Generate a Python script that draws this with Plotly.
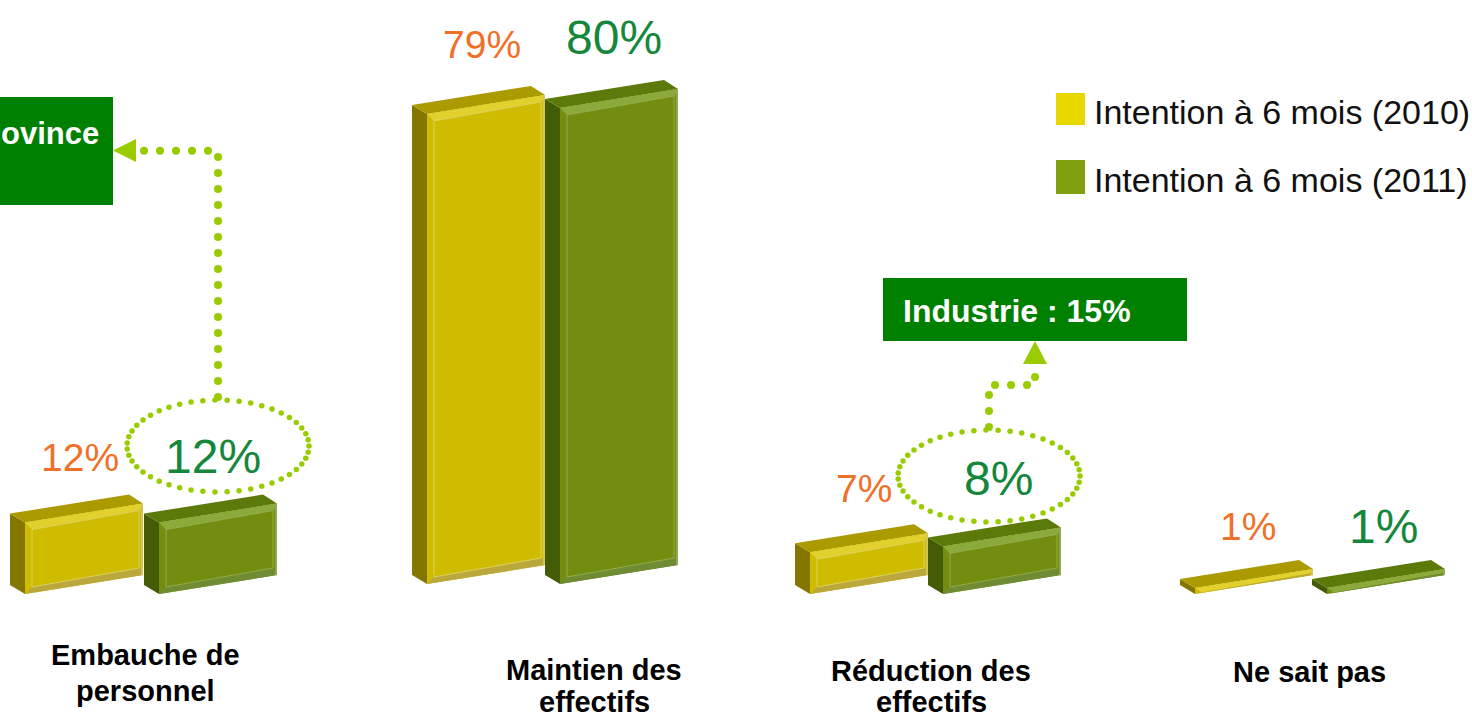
import math
import plotly.graph_objects as go

# ---------- data ----------
categories = [["Embauche de", "personnel"], ["Maintien des", "effectifs"],
              ["Réduction des", "effectifs"], ["Ne sait pas"]]
series_names = ["Intention à 6 mois (2010)", "Intention à 6 mois (2011)"]
values_2010 = [12, 79, 7, 1]
values_2011 = [12, 80, 8, 1]
callouts = ["ovince", "Industrie : 15%"]

# ---------- layout constants (pixels of the 1472x719 page) ----------
W, H = 1472, 719
K = 5.95           # pixels per percentage point
BASE_PX = 594      # pixel row of value 0
BAR_W, RISE, DX, DY = 118, 19, 15, 9
LEFT_2010 = [25, 427, 810, 1195]
LEFT_2011 = [159, 560, 943, 1327]
BASE_SHIFT = [0, -10, 0, 0]

YEL = dict(side="#857600", top="#ab9b00", front="#cfbc00", hi="#e2d02c", lo="#bba83c",
           line="#dcd060", right="#d3c658")
GRN = dict(side="#445c06", top="#5c7a0a", front="#728d10", hi="#8caa3c", lo="#6f8c34",
           line="#93ab4a", right="#8fa858")
ORANGE, DGREEN, DOT, BOX = "#ef7028", "#15873c", "#99cc00", "#008000"
FONT = "Liberation Sans"


def Y(py):
    return (BASE_PX - py) / K


fig = go.Figure()


def poly(xs, ys, color):
    fig.add_trace(go.Scatter(x=xs, y=ys, mode="lines", fill="toself", fillcolor=color,
                             line=dict(width=0, color=color), showlegend=False, hoverinfo="skip"))


def bar(x0, value, shift, pal):
    b = -shift / K
    t = b + value
    r, d = RISE / K, DY / K
    x1 = x0 + BAR_W
    px_h = value * K
    poly([x0, x0, x0 - DX, x0 - DX], [b, t, t + d, b + d], pal["side"])
    poly([x0, x1, x1 - DX + 1, x0 - DX], [t, t + r, t + r + d, t + d], pal["top"])
    poly([x0, x1, x1, x0], [b, b + r, t + r, t], pal["front"])
    e_top = min(7, px_h * 0.75) / K
    e_bot = min(7, px_h * 0.25) / K
    poly([x0, x1, x1 - 3, x0 + 7], [t, t + r, t + r - e_top, t - e_top], pal["hi"])
    poly([x0, x1, x1 - 3, x0 + 7], [b, b + r, b + r + e_bot, b + e_bot], pal["lo"])
    poly([x1 - 2, x1, x1, x1 - 2], [b + r, b + r, t + r, t + r], pal["right"])
    if px_h > 20:
        fx = [x0 + 7, x1 - 4, x1 - 4, x0 + 7, x0 + 7]
        fy = [b + e_bot, b + r + e_bot, t + r - e_top, t - e_top, b + e_bot]
        fig.add_trace(go.Scatter(x=fx, y=fy, mode="lines", line=dict(width=1, color=pal["line"]),
                                 showlegend=False, hoverinfo="skip"))


for i in range(len(categories)):
    bar(LEFT_2010[i], values_2010[i], BASE_SHIFT[i], YEL)
    bar(LEFT_2011[i], values_2011[i], BASE_SHIFT[i], GRN)


def ellipse(cx, cy, rx, ry, n=47):
    xs = [cx + rx * math.cos(2 * math.pi * k / n) for k in range(n)]
    ys = [Y(cy + ry * math.sin(2 * math.pi * k / n)) for k in range(n)]
    fig.add_trace(go.Scatter(x=xs, y=ys, mode="markers", marker=dict(size=5.5, color=DOT),
                             showlegend=False, hoverinfo="skip"))


ellipse(218, 446, 91, 46)
ellipse(989, 476, 91, 46)

# connectors
c1 = [(218, 397 - 16 * k) for k in range(15)] + [(218, 157)] + \
     [(208 - 16 * k, 150.7) for k in range(5)]
c2 = [(989, 427), (989, 411), (989, 395), (995, 385), (1011, 385), (1027, 385), (1035, 377)]
for c in (c1, c2):
    fig.add_trace(go.Scatter(x=[p[0] for p in c], y=[Y(p[1]) for p in c], mode="markers",
                             marker=dict(size=8, color=DOT), showlegend=False, hoverinfo="skip"))
poly([113, 136, 136], [Y(150.5), Y(139), Y(162)], DOT)
poly([1035, 1023, 1047], [Y(341), Y(364), Y(364)], DOT)

# legend swatches
poly([1056, 1085, 1085, 1056], [Y(93), Y(93), Y(125), Y(125)], "#e8d800")
poly([1056, 1085, 1085, 1056], [Y(160), Y(160), Y(194), Y(194)], "#80a010")

# callout boxes
for x0, x1, y0, y1 in [(-5, 113, 97, 205), (883, 1187, 278, 341)]:
    fig.add_shape(type="rect", x0=x0, x1=x1, y0=Y(y0), y1=Y(y1), fillcolor=BOX, line_width=0,
                  layer="above")


def text(s, x, py, size, color, anchor="center", bold=False):
    fig.add_annotation(x=x, y=Y(py), text=f"<b>{s}</b>" if bold else s, showarrow=False,
                       xanchor=anchor, yanchor="middle", align="center",
                       font=dict(family=FONT, size=size, color=color))


LABEL_POS_2010 = [(80, 457), (482, 44), (864, 488), (1248, 526)]
LABEL_POS_2011 = [(213, 456), (614, 37), (998, 478), (1383, 526)]
for i in range(4):
    text(f"{values_2010[i]}%", *LABEL_POS_2010[i], 39, ORANGE)
    text(f"{values_2011[i]}%", *LABEL_POS_2011[i], 48, DGREEN)

CAT_POS = [(145, [655, 691]), (594, [670, 702]), (931, [671, 702]), (1309, [672])]
for cat, (cx, rows) in zip(categories, CAT_POS):
    for line, row in zip(cat, rows):
        text(line, cx, row, 29, "#000000", bold=True)

text(series_names[0], 1092, 112, 34, "#111111", anchor="left")
text(series_names[1], 1092, 180, 34, "#111111", anchor="left")
text(callouts[0], 101, 133, 31, "#ffffff", anchor="right", bold=True)
text(callouts[1], 901, 311, 32, "#ffffff", anchor="left", bold=True)

fig.update_layout(width=W, height=H, margin=dict(l=0, r=0, t=0, b=0), showlegend=False,
                  paper_bgcolor="white", plot_bgcolor="white",
                  xaxis=dict(range=[0, W], visible=False, fixedrange=True),
                  yaxis=dict(range=[Y(H), Y(0)], visible=False, fixedrange=True))
fig.write_html("out.html", config=dict(displayModeBar=False),
               post_script="document.body.style.margin='0';document.body.style.overflow='hidden';")
